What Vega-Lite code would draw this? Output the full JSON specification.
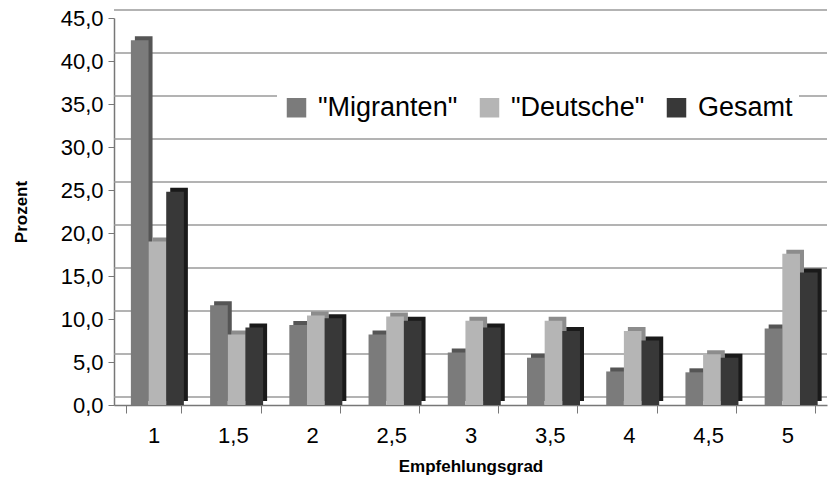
{
  "$schema": "https://vega.github.io/schema/vega-lite/v6.json",
  "width": 713,
  "height": 387,
  "autosize": "none",
  "padding": {"left": 114, "top": 18, "right": 7, "bottom": 77},
  "background": "white",
  "config": {
    "locale": {"number": {"decimal": ",", "thousands": ".", "grouping": [3], "currency": ["", " €"]}},
    "view": {"stroke": null},
    "font": "Liberation Sans"
  },
  "datasets": {
    "balken": [
      {"grad": "1", "gruppe": "\"Migranten\"", "wert": 42.4},
      {"grad": "1", "gruppe": "\"Deutsche\"", "wert": 19.0},
      {"grad": "1", "gruppe": "Gesamt", "wert": 24.8},
      {"grad": "1,5", "gruppe": "\"Migranten\"", "wert": 11.6},
      {"grad": "1,5", "gruppe": "\"Deutsche\"", "wert": 8.2},
      {"grad": "1,5", "gruppe": "Gesamt", "wert": 9.0},
      {"grad": "2", "gruppe": "\"Migranten\"", "wert": 9.3},
      {"grad": "2", "gruppe": "\"Deutsche\"", "wert": 10.4},
      {"grad": "2", "gruppe": "Gesamt", "wert": 10.1},
      {"grad": "2,5", "gruppe": "\"Migranten\"", "wert": 8.2},
      {"grad": "2,5", "gruppe": "\"Deutsche\"", "wert": 10.3},
      {"grad": "2,5", "gruppe": "Gesamt", "wert": 9.8},
      {"grad": "3", "gruppe": "\"Migranten\"", "wert": 6.1},
      {"grad": "3", "gruppe": "\"Deutsche\"", "wert": 9.8},
      {"grad": "3", "gruppe": "Gesamt", "wert": 9.0},
      {"grad": "3,5", "gruppe": "\"Migranten\"", "wert": 5.5},
      {"grad": "3,5", "gruppe": "\"Deutsche\"", "wert": 9.8},
      {"grad": "3,5", "gruppe": "Gesamt", "wert": 8.6},
      {"grad": "4", "gruppe": "\"Migranten\"", "wert": 3.9},
      {"grad": "4", "gruppe": "\"Deutsche\"", "wert": 8.6},
      {"grad": "4", "gruppe": "Gesamt", "wert": 7.5},
      {"grad": "4,5", "gruppe": "\"Migranten\"", "wert": 3.8},
      {"grad": "4,5", "gruppe": "\"Deutsche\"", "wert": 5.9},
      {"grad": "4,5", "gruppe": "Gesamt", "wert": 5.5},
      {"grad": "5", "gruppe": "\"Migranten\"", "wert": 8.9},
      {"grad": "5", "gruppe": "\"Deutsche\"", "wert": 17.6},
      {"grad": "5", "gruppe": "Gesamt", "wert": 15.4}
    ],
    "gitter": [
      {"wert": 0}, {"wert": 5}, {"wert": 10}, {"wert": 15}, {"wert": 20},
      {"wert": 25}, {"wert": 30}, {"wert": 35}, {"wert": 40}, {"wert": 45}
    ]
  },
  "encoding": {
    "y": {
      "field": "wert", "type": "quantitative",
      "scale": {"domain": [0, 45], "nice": false},
      "axis": {
        "title": "Prozent", "titleFont": "Liberation Sans", "titleFontSize": 17, "titleFontWeight": "bold",
        "titleColor": "black", "titlePadding": 30,
        "values": [0, 5, 10, 15, 20, 25, 30, 35, 40, 45], "format": ".1f",
        "labelFontSize": 22, "labelColor": "black", "labelPadding": 5,
        "tickColor": "#777", "tickSize": 6, "domainColor": "#777", "domainWidth": 1.5,
        "grid": false
      }
    }
  },
  "layer": [
    {
      "data": {"name": "gitter"},
      "mark": {"type": "rule", "yOffset": -8, "color": "#9a9a9a", "strokeWidth": 1.5}
    },
    {
      "data": {"name": "balken"},
      "mark": {"type": "bar", "yOffset": -4},
      "encoding": {
        "x": {
          "field": "grad", "type": "nominal", "sort": null,
          "scale": {"paddingInner": 0.3, "paddingOuter": 0.15},
          "axis": {
            "title": "Empfehlungsgrad", "titleFont": "Liberation Sans", "titleFontSize": 17, "titleFontWeight": "bold",
            "titleColor": "black", "titlePadding": 12,
            "labelAngle": 0, "labelFontSize": 22, "labelColor": "black", "labelPadding": 12,
            "tickBand": "extent", "tickColor": "#777", "tickSize": 8, "domainColor": "#777", "domainWidth": 1.5
          }
        },
        "xOffset": {"field": "gruppe", "type": "nominal", "sort": ["\"Migranten\"", "\"Deutsche\"", "Gesamt"], "scale": {"range": [9, 62]}},
        "fill": {
          "field": "gruppe", "type": "nominal", "legend": null,
          "scale": {"domain": ["\"Migranten\"", "\"Deutsche\"", "Gesamt"], "range": ["#555555", "#8c8c8c", "#1a1a1a"]}
        }
      }
    },
    {
      "data": {"name": "balken"},
      "mark": {"type": "bar"},
      "encoding": {
        "x": {
          "field": "grad", "type": "nominal", "sort": null,
          "scale": {"paddingInner": 0.3, "paddingOuter": 0.15},
          "axis": {
            "title": "Empfehlungsgrad", "titleFont": "Liberation Sans", "titleFontSize": 17, "titleFontWeight": "bold",
            "titleColor": "black", "titlePadding": 12,
            "labelAngle": 0, "labelFontSize": 22, "labelColor": "black", "labelPadding": 12,
            "tickBand": "extent", "tickColor": "#777", "tickSize": 8, "domainColor": "#777", "domainWidth": 1.5
          }
        },
        "xOffset": {"field": "gruppe", "type": "nominal", "sort": ["\"Migranten\"", "\"Deutsche\"", "Gesamt"], "scale": {"range": [5, 58]}},
        "color": {
          "field": "gruppe", "type": "nominal",
          "scale": {"domain": ["\"Migranten\"", "\"Deutsche\"", "Gesamt"], "range": ["#7b7b7b", "#b5b5b5", "#383838"]},
          "legend": {
            "title": null, "orient": "none", "direction": "horizontal",
            "legendX": 163, "legendY": 70,
            "symbolType": "square", "symbolSize": 380, "symbolStrokeWidth": 0,
            "labelFontSize": 27, "labelColor": "black", "labelFont": "Liberation Sans",
            "columnPadding": 18, "labelOffset": 8, "labelLimit": 300,
            "fillColor": "white", "padding": 6
          }
        }
      }
    }
  ],
  "resolve": {"scale": {"xOffset": "independent", "color": "independent", "fill": "independent"}, "legend": {"color": "independent", "fill": "independent"}}
}
